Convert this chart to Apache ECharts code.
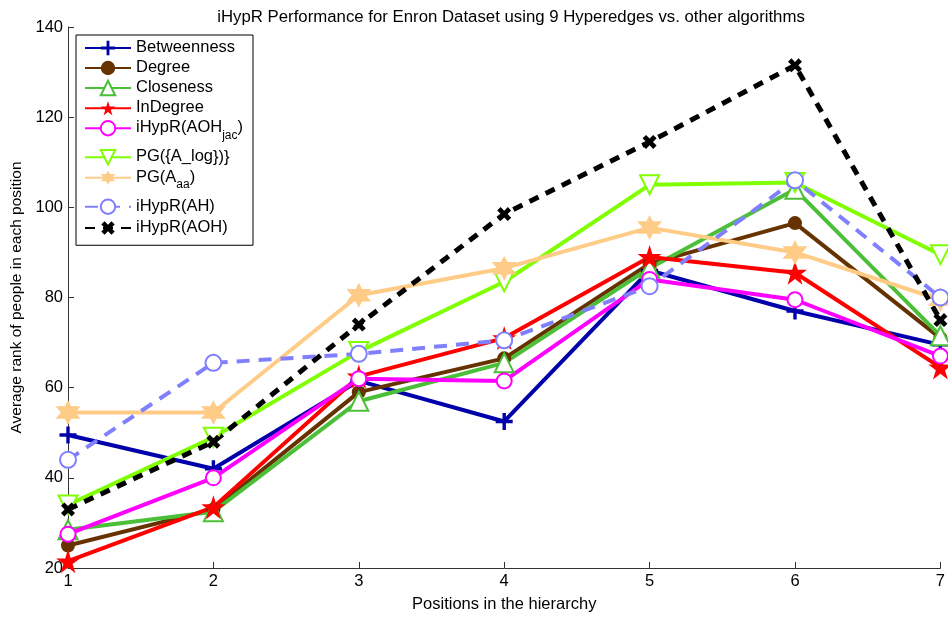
<!DOCTYPE html>
<html>
<head>
<meta charset="utf-8">
<script src="https://cdn.jsdelivr.net/npm/echarts@6/dist/echarts.min.js"></script>
<style>
html,body{margin:0;padding:0;background:#fff;}
#chart{width:948px;height:618px;}
</style>
</head>
<body>
<div id="chart"></div>
<script>
const positions = [1, 2, 3, 4, 5, 6, 7];
const yTicks = [20, 40, 60, 80, 100, 120, 140];
const betweenness = [49.5, 42, 61.5, 52.5, 86, 77, 69.5];
const degree = [25, 33, 59, 66.5, 87.5, 96.5, 71];
const closeness = [28.5, 32.5, 57, 65.5, 86.5, 104, 71.5];
const inDegree = [21.5, 33.5, 62.5, 71, 89, 85.5, 64.5];
const ihyprJac = [27.5, 40, 62, 61.5, 84, 79.5, 67];
const pgLog = [34, 49, 68, 83.5, 105, 105.5, 89.5];
const pgAa = [54.5, 54.5, 80.5, 86.5, 95.5, 90, 79.5];
const ihyprAH = [44, 65.5, 67.5, 70.5, 82.5, 106, 80];
const ihyprAOH = [33, 48, 74, 98.5, 114.5, 131.5, 75];
const seriesNames = ['Betweenness', 'Degree', 'Closeness', 'InDegree', 'iHypR(AOH_jac)', 'PG({A_log}})', 'PG(A_aa)', 'iHypR(AH)', 'iHypR(AOH)'];

const FONT = 'Liberation Sans';
const FS = 16.5;
const PLUS = 'path://M40,0h20v40h40v20h-40v40h-20v-40h-40v-20h40z';
const XMARK = 'path://M34,0h32v34h34v32h-34v34h-32v-34h-34v-32h34z';
const PENTA = 'path://M50,0L61.2,34.5L97.6,34.5L68.2,55.9L79.4,90.5L50,69.1L20.6,90.5L31.8,55.9L2.4,34.5L38.8,34.5Z';
const HEXA = 'path://M50,0L61,25L93.3,25L75,50L93.3,75L61,75L50,100L39,75L6.7,75L25,50L6.7,25L39,25Z';

function pts(arr) { return positions.map((x, i) => [x, arr[i]]); }

function mk(name, data, color, symbol, size, opts) {
  opts = opts || {};
  return {
    name: name,
    type: 'line',
    data: pts(data),
    symbol: symbol,
    symbolSize: size,
    symbolRotate: opts.rotate || 0,
    showAllSymbol: true,
    clip: false,
    color: color,
    lineStyle: { color: color, width: opts.width || 4, type: opts.dash || 'solid' },
    itemStyle: { color: color, borderColor: color, borderWidth: opts.border || 0 },
    emphasis: { disabled: true },
    animation: false
  };
}

const series = [
  mk(seriesNames[0], betweenness, '#0000AA', PLUS, 17),
  mk(seriesNames[1], degree, '#663300', 'circle', 14),
  mk(seriesNames[2], closeness, '#4CBF38', 'emptyTriangle', 19, { border: 4.5 }),
  mk(seriesNames[3], inDegree, '#FF0000', PENTA, 24),
  mk(seriesNames[4], ihyprJac, '#FF00FF', 'emptyCircle', 15, { border: 3.5 }),
  mk(seriesNames[5], pgLog, '#80FF00', 'emptyTriangle', 19, { border: 4, rotate: 180 }),
  mk(seriesNames[6], pgAa, '#FFCC88', HEXA, 25),
  mk(seriesNames[7], ihyprAH, '#8080FF', 'emptyCircle', 16, { border: 4, dash: [13, 9] }),
  mk(seriesNames[8], ihyprAOH, '#000000', XMARK, 15, { rotate: 45, width: 5, dash: [10, 8] })
];

const legendFmt = {
  'iHypR(AOH_jac)': '{m|iHypR(AOH}{s|jac}{m|)}',
  'PG(A_aa)': '{m|PG(A}{s|aa}{m|)}'
};

const chart = echarts.init(document.getElementById('chart'), null, { renderer: 'canvas' });
chart.setOption({
  backgroundColor: '#fff',
  animation: false,
  title: {
    text: 'iHypR Performance for Enron Dataset using 9 Hyperedges vs. other algorithms',
    left: 506, top: 4, textAlign: 'center',
    textStyle: { fontFamily: FONT, fontSize: 16.8, fontWeight: 'normal', color: '#000' }
  },
  grid: { left: 68, right: 7, top: 27, bottom: 46, containLabel: false },
  legend: {
    orient: 'vertical',
    left: 76, top: 35,
    data: seriesNames,
    itemWidth: 46, itemHeight: 18, itemGap: 3, itemTextGap: 6,
    padding: [4, 10, 7, 8],
    borderColor: '#000', borderWidth: 1, backgroundColor: '#fff',
    selectedMode: false,
    formatter: function (n) { return legendFmt[n] || ('{m|' + n + '}'); },
    textStyle: {
      fontFamily: FONT, fontSize: FS, color: '#000',
      rich: {
        m: { fontFamily: FONT, fontSize: FS, color: '#000', verticalAlign: 'top', lineHeight: 18 },
        s: { fontFamily: FONT, fontSize: 12, color: '#000', verticalAlign: 'top', lineHeight: 13, padding: [10, 0, 4, 0] }
      }
    }
  },
  xAxis: {
    type: 'value', min: 1, max: 7, interval: 1,
    name: 'Positions in the hierarchy', nameLocation: 'middle', nameGap: 28,
    nameTextStyle: { fontFamily: FONT, fontSize: FS, color: '#000' },
    axisLine: { lineStyle: { color: '#333', width: 1 } },
    axisTick: { inside: true, length: 6, lineStyle: { color: '#333' } },
    axisLabel: { fontFamily: FONT, fontSize: FS, color: '#000', margin: 5 },
    splitLine: { show: false }
  },
  yAxis: {
    type: 'value', min: yTicks[0], max: yTicks[yTicks.length - 1], interval: 20,
    name: 'Average rank of people in each position', nameLocation: 'middle', nameGap: 42,
    nameTextStyle: { fontFamily: FONT, fontSize: 15.5, color: '#000' },
    axisLine: { show: true, lineStyle: { color: '#333', width: 1 } },
    axisTick: { show: true, inside: true, length: 6, lineStyle: { color: '#333' } },
    axisLabel: { fontFamily: FONT, fontSize: FS, color: '#000', margin: 5 },
    splitLine: { show: false }
  },
  series: series
});
</script>
</body>
</html>
